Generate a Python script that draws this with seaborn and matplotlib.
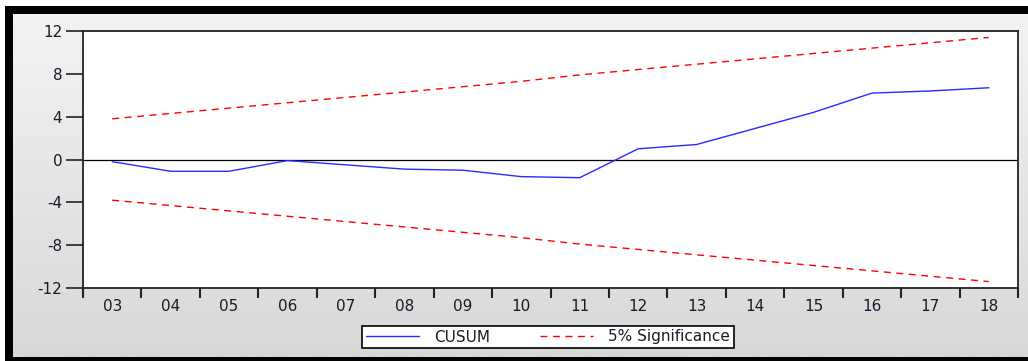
import numpy as np
import matplotlib
matplotlib.use("Agg")
import matplotlib.pyplot as plt
import seaborn as sns
from matplotlib.patches import Rectangle

years = ["03", "04", "05", "06", "07", "08", "09", "10",
         "11", "12", "13", "14", "15", "16", "17", "18"]
cusum = [-0.2, -1.1, -1.1, -0.1, -0.5, -0.9, -1.0, -1.6,
         -1.7, 1.0, 1.4, 2.9, 4.4, 6.2, 6.4, 6.7]
upper = [3.8, 4.3, 4.8, 5.3, 5.8, 6.3, 6.8, 7.3,
         7.9, 8.4, 8.9, 9.4, 9.9, 10.4, 10.9, 11.4]
lower = [-3.8, -4.3, -4.8, -5.3, -5.8, -6.3, -6.8, -7.3,
         -7.9, -8.4, -8.9, -9.4, -9.9, -10.4, -10.9, -11.4]
yticks = [-12, -8, -4, 0, 4, 8, 12]

sns.set_theme(style="white")
plt.rcParams['font.family'] = ['DejaVu Sans']

W, H = 1028, 361
fig = plt.figure(figsize=(W / 100, H / 100), dpi=100)
fig.patch.set_facecolor("white")

# black frame and gray gradient background
fig.patches.append(Rectangle((5 / W, 0), 1 - 5 / W, 1 - 6 / H,
                             transform=fig.transFigure, facecolor="black",
                             edgecolor="none", zorder=-10))
bg = fig.add_axes([13 / W, 4 / H, 1 - 13 / W, 1 - 18 / H], zorder=-5)
grad = np.linspace(0, 1, 256).reshape(-1, 1)
bg.imshow(grad, aspect="auto", cmap=matplotlib.colors.LinearSegmentedColormap.from_list(
    "g", ["#f3f3f3", "#d8d8d8"]), extent=[0, 1, 1, 0])
bg.set_axis_off()

ax = fig.add_axes([83 / W, 1 - 288 / H, (1018 - 83) / W, (288 - 31) / H])
ax.set_facecolor("white")

x = np.arange(len(years))
sns.lineplot(x=x, y=cusum, ax=ax, color="#2a2aff", linewidth=1.0, label="CUSUM")
sns.lineplot(x=x, y=upper, ax=ax, color="#ff0000", linewidth=1.0,
             linestyle=(0, (5, 4)), label="5% Significance")
sns.lineplot(x=x, y=lower, ax=ax, color="#ff0000", linewidth=1.0,
             linestyle=(0, (5, 4)))
ax.axhline(0, color="black", linewidth=0.9, zorder=1)

ax.set_xlim(-0.5, len(years) - 0.5)
ax.set_ylim(-12, 12)
ax.set_yticks(yticks)
ax.set_yticklabels([str(v) if v >= 0 else "-" + str(-v) for v in yticks])
ax.set_xticks(np.arange(len(years) + 1) - 0.5)
ax.set_xticklabels([])
ax.set_xticks(x, minor=True)
ax.set_xticklabels(years, minor=True)
ax.tick_params(axis="x", which="major", direction="out", length=7, width=1.5,
               color="#222222", bottom=True)
ax.tick_params(axis="x", which="minor", length=0, pad=8, labelsize=11,
               labelcolor="#1a1a2a", bottom=True)
ax.tick_params(axis="y", direction="out", length=12, width=1.2, color="#222222",
               left=True, labelsize=11, labelcolor="#1a1a2a", pad=3)
for s in ax.spines.values():
    s.set_visible(True)
    s.set_color("#222222")
    s.set_linewidth(1.3)

ax.get_legend().remove()
handles, labels = ax.get_legend_handles_labels()
leg = fig.legend(handles, labels, loc="center", ncol=2,
                 bbox_to_anchor=(548 / W, 1 - 337 / H), frameon=True,
                 fancybox=False, edgecolor="black", facecolor="white",
                 fontsize=11, handlelength=3.5, columnspacing=3.2,
                 borderpad=0.25, handletextpad=1.0, borderaxespad=0)
leg.get_frame().set_linewidth(1.2)
leg.get_frame().set_alpha(1)
for t in leg.get_texts():
    t.set_color("#1a1a2a")

fig.savefig("out.png", dpi=100)
